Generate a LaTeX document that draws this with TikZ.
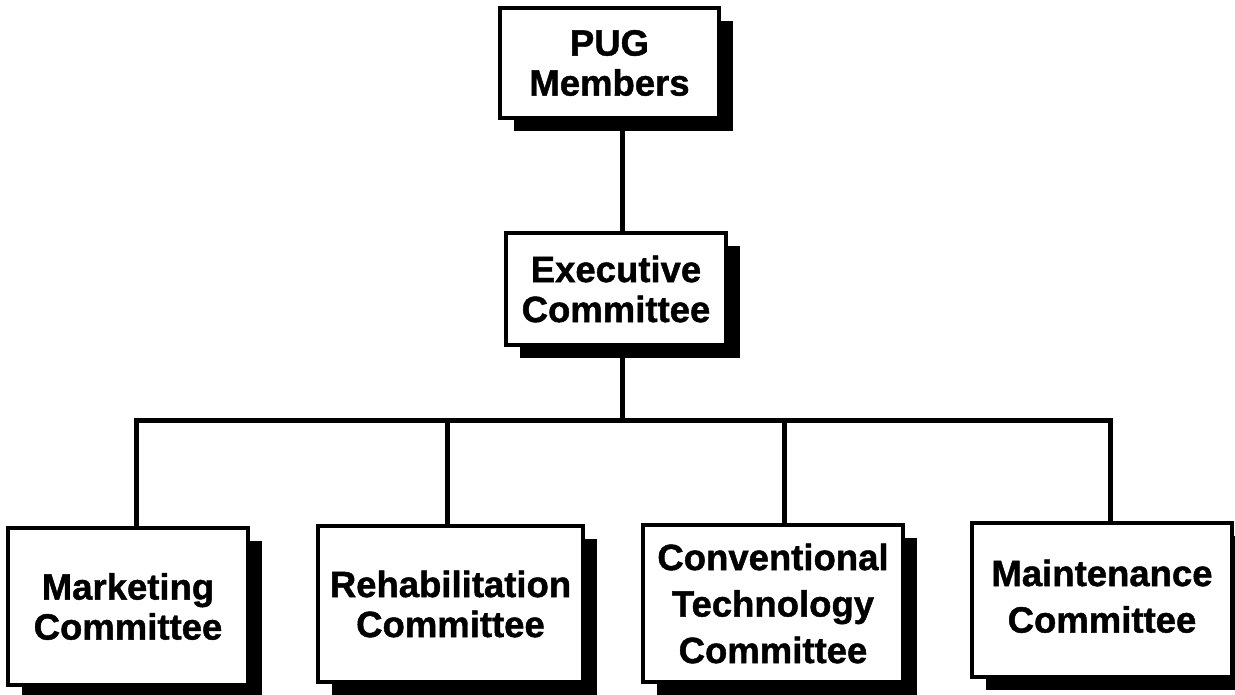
\documentclass[tikz,border=0pt]{standalone}
\usepackage{fontspec}
\setmainfont{Liberation Sans}[BoldFeatures={FakeBold=1.2}]
\usetikzlibrary{shadows}
\begin{document}
\begin{tikzpicture}[x=1pt,y=-1pt,
  orgbox/.style={draw=black, line width=3.2pt, fill=white, inner sep=0pt,
    align=center, font=\fontsize{36.5}{40}\selectfont\bfseries,
    drop shadow={shadow xshift=14pt, shadow yshift=-13pt, fill=black, opacity=1}},
  tallbox/.style={orgbox, font=\fontsize{36.5}{46.5}\selectfont\bfseries},
  conn/.style={draw=black, line width=5pt, line join=miter}]
\useasboundingbox (0,0) rectangle (1235,694);
\fill[white] (0,0) rectangle (1235,694);

\node[orgbox, minimum width=219pt, minimum height=110pt] (pug) at (609.5,63) {PUG\\Members};
\node[orgbox, minimum width=220pt, minimum height=112pt] (exec) at (616,289) {Executive\\Committee};
\node[orgbox, minimum width=240pt, minimum height=157pt] (mkt) at (128,606.5) {Marketing\\Committee};
\node[orgbox, minimum width=265pt, minimum height=156pt] (rehab) at (450.5,604) {Rehabilitation\\Committee};
\node[tallbox, minimum width=260pt, minimum height=157pt] (conv) at (773,603.5) {Conventional\\Technology\\Committee};
\node[tallbox, minimum width=260pt, minimum height=154pt] (maint) at (1102,600) {\begin{tabular}{@{}c@{}}Maintenance\\Committee\end{tabular}};

\coordinate (ex) at (622,0);
\coordinate (bus) at (0,420);
\coordinate (xm) at (136,0);
\coordinate (xr) at (447,0);
\coordinate (xc) at (784,0);
\coordinate (xn) at (1110,0);

\draw[conn] (pug.south -| ex) -- (exec.north -| ex);
\draw[conn] (exec.south -| ex) -- (bus -| ex);
\draw[conn] (mkt.north -| xm) -- (bus -| xm) -- (bus -| xn) -- (maint.north -| xn);
\draw[conn] (bus -| xr) -- (rehab.north -| xr);
\draw[conn] (bus -| xc) -- (conv.north -| xc);
\end{tikzpicture}
\end{document}
